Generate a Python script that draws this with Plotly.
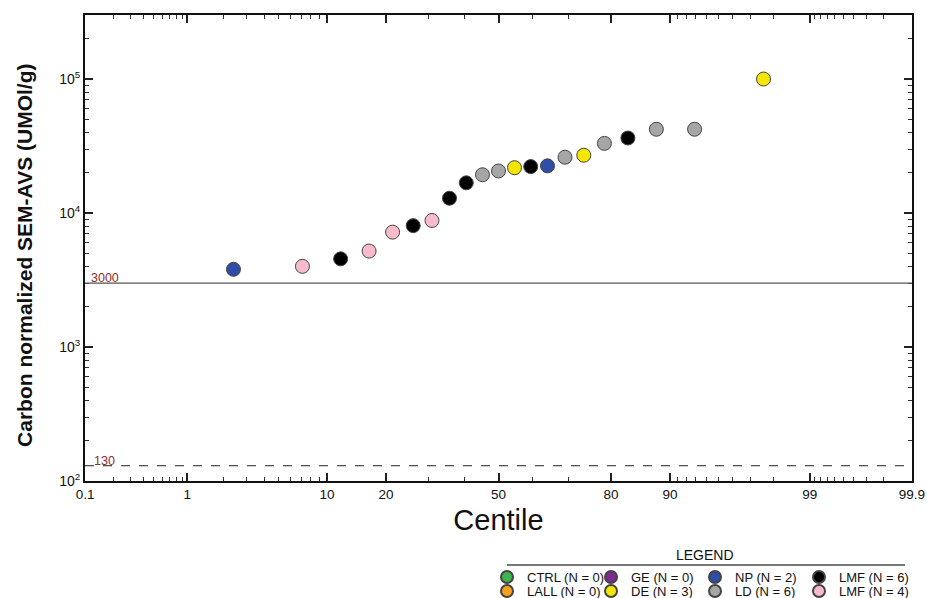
from statistics import NormalDist
import math
import plotly.graph_objects as go

# ---------------- data ----------------
centiles = [2.38, 7.14, 11.90, 16.67, 21.43, 26.19, 30.95, 35.71, 40.48, 45.24, 50.00,
            54.76, 59.52, 64.29, 69.05, 73.81, 78.57, 83.33, 88.10, 92.86, 97.62]
values = [3800, 4000, 4550, 5200, 7200, 8050, 8800, 12900, 16800, 19300, 20600,
          21800, 22200, 22500, 26100, 27000, 33100, 36300, 42200, 42200, 100000]
groups = ["NP", "LMF_b", "LMF_a", "LMF_b", "LMF_b", "LMF_a", "LMF_b", "LMF_a", "LMF_a", "LD", "LD",
          "DE", "LMF_a", "NP", "LD", "DE", "LD", "LMF_a", "LD", "LD", "DE"]

# legend groups: (key, label, color), row 1 then row 2
row1 = [("CTRL", "CTRL", "#3DB54A"), ("GE", "GE", "#7E2A8E"), ("NP", "NP", "#2E4DA7"), ("LMF_a", "LMF", "#000000")]
row2 = [("LALL", "LALL", "#F5A11C"), ("DE", "DE", "#F4E600"), ("LD", "LD", "#A6A6A6"), ("LMF_b", "LMF", "#F8BBCB")]

x_tick_labels = ["0.1", "1", "10", "20", "50", "80", "90", "99", "99.9"]
x_tick_pcts = [0.1, 1, 10, 20, 50, 80, 90, 99, 99.9]
x_minor_pcts = ([0.2, 0.3, 0.4, 0.5, 0.6, 0.7, 0.8, 0.9] + [2, 3, 4, 5, 6, 7, 8, 9] + [30, 40, 60, 70]
                + [91, 92, 93, 94, 95, 96, 97, 98] + [99.1, 99.2, 99.3, 99.4, 99.5, 99.6, 99.7, 99.8])
y_tick_vals = [100, 1000, 10000, 100000]
y_tick_text = ["10<sup>2</sup>", "10<sup>3</sup>", "10<sup>4</sup>", "10<sup>5</sup>"]
ref_lines = [3000, 130]

nd = NormalDist()
def z(p):
    return nd.inv_cdf(p / 100.0)

FONT = "Liberation Sans, Arial, sans-serif"
fig = go.Figure()

for legend_id, row in (("legend", row1), ("legend2", row2)):
    for i, (key, label, color) in enumerate(row):
        xs = [z(c) for c, g in zip(centiles, groups) if g == key]
        ys = [v for v, g in zip(values, groups) if g == key]
        n = len(xs)
        if n == 0:
            xs, ys = [None], [None]
        fig.add_trace(go.Scatter(
            x=xs, y=ys, mode="markers", name=f"{label} (N = {n})",
            legend=legend_id, legendwidth=(59 if i < 3 else 80),
            marker=dict(size=14, color=color, line=dict(color="#444444", width=1)),
        ))

# reference lines
fig.add_shape(type="line", xref="x domain", x0=0, x1=1, yref="y", y0=ref_lines[0], y1=ref_lines[0],
              line=dict(color="#555555", width=1.3))
fig.add_shape(type="line", xref="x domain", x0=0, x1=1, yref="y", y0=ref_lines[1], y1=ref_lines[1],
              line=dict(color="#222222", width=1, dash="dash"))
for v, xs in ((ref_lines[0], 4), (ref_lines[1], 7)):
    fig.add_annotation(xref="x domain", x=0, y=math.log10(v), yref="y", text=str(v),
                       showarrow=False, xanchor="left", yanchor="bottom", xshift=xs, yshift=-4,
                       font=dict(family=FONT, size=12.5, color="#8B2E2E"))

# y-axis title (placed as annotation to match vertical offset)
fig.add_annotation(xref="paper", yref="paper", x=-0.0726, y=0.485, text="<b>Carbon normalized SEM-AVS (UMOl/g)</b>",
                   textangle=-90, showarrow=False, xanchor="center", yanchor="middle",
                   font=dict(family=FONT, size=21, color="#111"))

# custom legend header
fig.add_annotation(xref="paper", yref="paper", x=0.7497, y=-0.1588, text="LEGEND", showarrow=False,
                   xanchor="center", yanchor="middle", font=dict(family=FONT, size=14, color="#111"))
fig.add_shape(type="line", xref="paper", yref="paper", x0=0.5103, x1=0.9915, y0=-0.1803, y1=-0.1803,
              line=dict(color="#777777", width=2))

legend_common = dict(orientation="h", xanchor="left", yanchor="middle", itemsizing="constant",
                     bgcolor="rgba(0,0,0,0)", font=dict(family=FONT, size=13, color="#111"),
                     itemclick=False, itemdoubleclick=False)

xr = [z(0.1) - 0.0005, z(99.9) + 0.0005]
fig.update_layout(
    width=927, height=598,
    margin=dict(l=85, r=15, t=15, b=117, autoexpand=False),
    paper_bgcolor="white", plot_bgcolor="white",
    font=dict(family=FONT, color="#111"),
    legend=dict(x=0.4861, y=-0.206, **legend_common),
    legend2=dict(x=0.4861, y=-0.236, **legend_common),
    xaxis=dict(
        range=xr, tickmode="array", tickvals=[z(p) for p in x_tick_pcts], ticktext=x_tick_labels,
        ticks="inside", ticklen=8, tickwidth=1.5, tickcolor="#222",
        showline=True, linewidth=2, linecolor="#111", mirror="ticks",
        showgrid=False, zeroline=False,
        tickfont=dict(family=FONT, size=13.5, color="#111"),
        minor=dict(tickmode="array", tickvals=[z(p) for p in x_minor_pcts], ticks="inside",
                   ticklen=4, tickwidth=1.2, tickcolor="#333", showgrid=False),
        title=dict(text="Centile", font=dict(family=FONT, size=29, color="#111"), standoff=8),
    ),
    yaxis=dict(
        type="log", range=[2, 5.478], tickmode="array", tickvals=y_tick_vals, ticktext=y_tick_text,
        ticks="inside", ticklen=8, tickwidth=1.5, tickcolor="#222",
        showline=True, linewidth=2, linecolor="#111", mirror="ticks",
        showgrid=False, zeroline=False,
        tickfont=dict(family=FONT, size=14, color="#111"),
        minor=dict(ticks="inside", ticklen=4, tickwidth=1.2, tickcolor="#333", showgrid=False,
                   dtick="D1"),
    ),
)

fig.write_html("out.html")
